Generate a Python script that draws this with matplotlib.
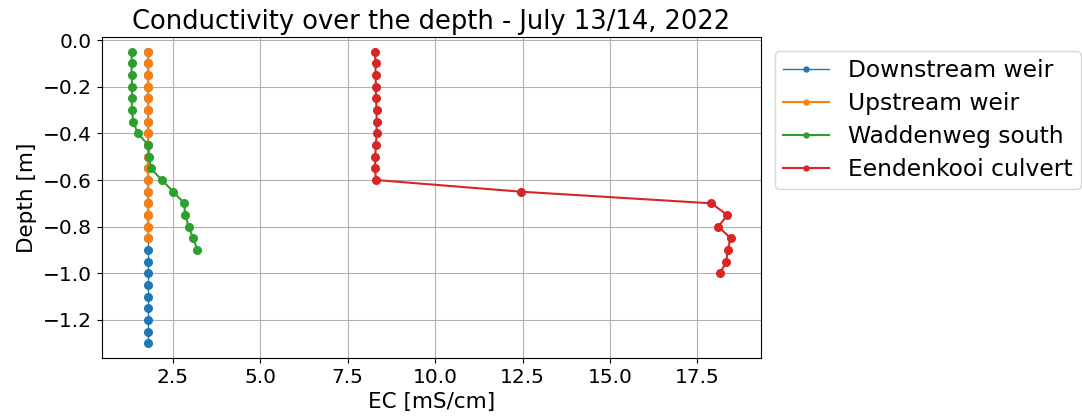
import matplotlib.pyplot as plt

# depth profiles, July 13/14 2022
down_depth = [-0.05, -0.10, -0.15, -0.20, -0.25, -0.30, -0.35, -0.40, -0.45, -0.50,
              -0.55, -0.60, -0.65, -0.70, -0.75, -0.80, -0.85, -0.90, -0.95, -1.00,
              -1.05, -1.10, -1.15, -1.20, -1.25, -1.30]
down_ec = [1.8, 1.8, 1.8, 1.8, 1.8, 1.8, 1.8, 1.8, 1.8, 1.8,
           1.8, 1.8, 1.8, 1.8, 1.8, 1.8, 1.8, 1.8, 1.8, 1.8,
           1.8, 1.8, 1.8, 1.8, 1.8, 1.8]

up_depth = [-0.05, -0.10, -0.15, -0.20, -0.25, -0.30, -0.35, -0.40, -0.45, -0.50,
            -0.55, -0.60, -0.65, -0.70, -0.75, -0.80, -0.85]
up_ec = [1.8, 1.8, 1.8, 1.8, 1.8, 1.8, 1.8, 1.8, 1.8, 1.8,
         1.8, 1.8, 1.8, 1.8, 1.8, 1.8, 1.8]

wad_depth = [-0.05, -0.10, -0.15, -0.20, -0.25, -0.30, -0.35, -0.40, -0.45, -0.50,
             -0.55, -0.60, -0.65, -0.70, -0.75, -0.80, -0.85, -0.90]
wad_ec = [1.33, 1.33, 1.33, 1.34, 1.34, 1.33, 1.38, 1.50, 1.81, 1.83,
          1.88, 2.19, 2.52, 2.83, 2.86, 2.96, 3.09, 3.21]

een_depth = [-0.05, -0.10, -0.15, -0.20, -0.25, -0.30, -0.35, -0.40, -0.45, -0.50,
             -0.55, -0.60, -0.65, -0.70, -0.75, -0.80, -0.85, -0.90, -0.95, -1.00]
een_ec = [8.28, 8.30, 8.30, 8.31, 8.31, 8.33, 8.33, 8.33, 8.31, 8.29,
          8.29, 8.31, 12.45, 17.90, 18.35, 18.10, 18.45, 18.36, 18.33, 18.14]

fig = plt.figure(figsize=(10.82, 4.18), dpi=100)
ax = fig.add_axes([0.094, 0.144, 0.609, 0.767])

ax.plot(down_ec, down_depth, marker='o', ms=5.5, lw=1.0, label='Downstream weir')
ax.plot(up_ec, up_depth, marker='o', ms=5.5, label='Upstream weir')
ax.plot(wad_ec, wad_depth, marker='o', ms=5.5, label='Waddenweg south')
ax.plot(een_ec, een_depth, marker='o', ms=5.5, label='Eendenkooi culvert')

ax.set_title('Conductivity over the depth - July 13/14, 2022', fontsize=18.5)
ax.set_xlabel('EC [mS/cm]', fontsize=15.5)
ax.set_ylabel('Depth [m]', fontsize=15.5)
ax.tick_params(labelsize=14.5)
ax.grid(True)
ax.legend(loc='upper left', bbox_to_anchor=(1, 1), fontsize=16.8,
          markerscale=0.65, labelspacing=0.42, borderpad=0.35,
          borderaxespad=0.6)

fig.savefig('out.png', dpi=100)
